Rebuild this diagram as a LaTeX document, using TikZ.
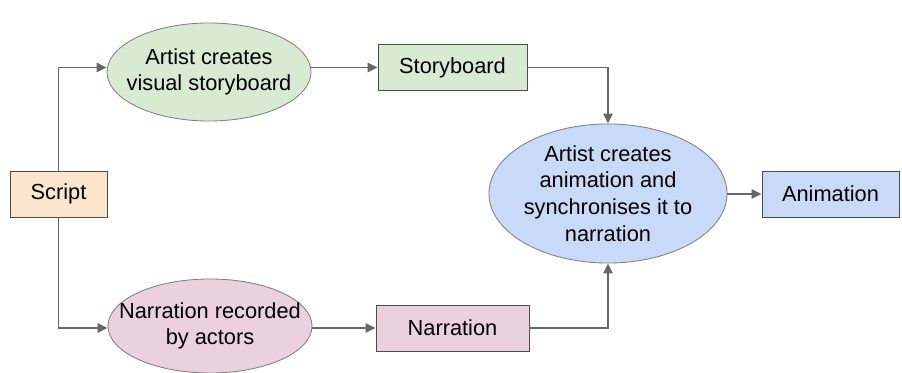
\documentclass[tikz,border=0pt]{standalone}
\usepackage{fontspec}
\setmainfont{Liberation Sans}
\usetikzlibrary{shapes.geometric,arrows.meta,calc}
\definecolor{scriptfill}{HTML}{FCE5CD}
\definecolor{greenfill}{HTML}{D9EAD3}
\definecolor{bluefill}{HTML}{C9DAF8}
\definecolor{pinkfill}{HTML}{EAD1DC}
\definecolor{wire}{HTML}{666666}
\tikzset{
  item/.style={
    % The shape:
    rectangle,
    % The border:
    draw=black!70,
    line width=0.6pt,
    % Font
    font=\fontsize{15.5}{19}\selectfont,
    % no padding, the size is fixed
    inner sep=0pt,
    minimum height=1.15cm
  },
  task/.style={
    % The shape:
    ellipse,
    % The border:
    draw=black!50,
    line width=0.6pt,
    % size comes from minimum width/height only
    inner sep=0pt,
    % the text sits on top as a centred label
    label={[align=center, font=\fontsize{15.5}{19}\selectfont]center:#1}
  },
  flow/.style={
    draw=wire,
    line width=1.4pt,
    -{Triangle[length=7pt, width=6.5pt]}
  }
}

\begin{document}
\begin{tikzpicture}[x=0.025cm, y=-0.025cm]

  \useasboundingbox (0, 0) rectangle (902, 373);

  \node at (58.5, 194) (script) [item, fill=scriptfill, minimum width=2.425cm] {Script};

  \node at (209, 72) (visual) [task={Artist creates\\visual storyboard}, fill=greenfill,
    minimum width=5.1cm, minimum height=2.45cm] {};

  \node at (452.5, 67.5) (storyboard) [item, fill=greenfill, minimum width=3.725cm] {Storyboard};

  \node at (210, 326) (record) [task={Narration recorded\\by actors}, fill=pinkfill,
    minimum width=5.1cm, minimum height=2.35cm] {};

  \node at (452.5, 328) (narration) [item, fill=pinkfill, minimum width=3.825cm] {Narration};

  \node at (608, 193.5) (animate) [task={Artist creates\\animation and\\synchronises it to\\narration}, fill=bluefill,
    minimum width=5.95cm, minimum height=3.475cm] {};

  \node at (830.5, 194) (animation) [item, fill=bluefill, minimum width=3.425cm] {Animation};

  % top branch
  \draw [flow] (script.north) |- (visual.west |- storyboard);
  \draw [flow] (visual.east |- storyboard) -- (storyboard.west);
  \draw [flow] (storyboard.east) -| (animate.north);

  % bottom branch
  \draw [flow] (script.south) |- (record.west |- narration);
  \draw [flow] (record.east |- narration) -- (narration.west);
  \draw [flow] (narration.east) -| (animate.south);

  \draw [flow] (animate.east |- animation) -- (animation.west);

\end{tikzpicture}
\end{document}
